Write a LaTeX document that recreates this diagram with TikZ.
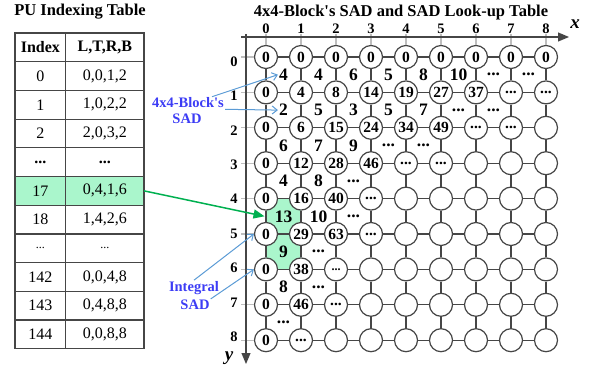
\documentclass[tikz,border=0pt]{standalone}
\usepackage{fontspec}
\setmainfont{Liberation Serif}
\usetikzlibrary{arrows.meta}
\usetikzlibrary{backgrounds}

\definecolor{gridgray}{RGB}{70,70,70}
\definecolor{tickgray}{RGB}{190,190,190}
\definecolor{mint}{RGB}{170,246,204}
\definecolor{arrowgreen}{RGB}{0,176,80}
\definecolor{noteblue}{RGB}{91,155,213}
\definecolor{labelblue}{RGB}{60,60,245}

\newcommand{\boldell}{\textbf{...}}
\newcommand{\thinell}{{\fontsize{12}{12}\selectfont...}}

\tikzset{
  sadnode/.style={circle,draw=gridgray,line width=1.2pt,fill=white,minimum size=23pt,inner sep=0pt,font=\fontsize{15.5}{15.5}\selectfont\bfseries},
  blockval/.style={inner sep=1pt,font=\fontsize{17.5}{17.5}\selectfont\bfseries},
  gridline/.style={draw=gridgray,line width=1.3pt},
  tickline/.style={draw=tickgray,line width=1.2pt},
  axisline/.style={draw=gridgray,line width=1.2pt,-{Triangle[length=11pt,width=9pt]}},
  axislabel/.style={inner sep=1pt,font=\fontsize{14.5}{14.5}\selectfont\bfseries},
  axisvar/.style={inner sep=1pt,font=\fontsize{19}{19}\selectfont\bfseries\itshape},
  tabcell/.style={draw=gridgray,line width=1.2pt,minimum height=28.7pt,inner sep=0pt,outer sep=0pt,font=\fontsize{16}{16}\selectfont},
  note/.style={text=labelblue,font=\fontsize{14.5}{14.5}\selectfont\bfseries,inner sep=1pt},
  notearrow/.style={draw=noteblue,line width=1pt,-{Straight Barb[length=5pt,width=8pt]}},
  greenarrow/.style={draw=arrowgreen,line width=1.5pt,-{Triangle[length=11pt,width=9pt]}},
  title/.style={font=\fontsize{16.5}{16.5}\selectfont\bfseries},
}

\begin{document}
\begin{tikzpicture}[x=1pt,y=-1pt]
  \useasboundingbox (0,0) rectangle (592,369);

  \node[title] (pu-title) at (80,12) {PU Indexing Table};
  \node[title] (sad-title) at (401,13) {4x4-Block\textquotesingle s SAD and SAD Look-up Table};

  % PU table
  \foreach \idx/\ltrb/\cellfill [count=\r from 0] in {
      {\textbf{Index}}/{\textbf{L,T,R,B}}/white,
      0/{0,0,1,2}/white,
      1/{1,0,2,2}/white,
      2/{2,0,3,2}/white,
      \boldell/\boldell/white,
      17/{0,4,1,6}/mint,
      18/{1,4,2,6}/white,
      \thinell/\thinell/white,
      142/{0,0,4,8}/white,
      143/{0,4,8,8}/white,
      144/{0,0,8,8}/white}
  {
    \node[tabcell,fill=\cellfill,minimum width=50.7pt] (idx-\r) at (40.35,47.35+28.7*\r) {\idx};
    \node[tabcell,fill=\cellfill,minimum width=78.3pt] (ltrb-\r) at (104.85,47.35+28.7*\r) {\ltrb};
  }

  % integral SAD nodes
  \foreach \vals [count=\j from 0] in {
      {0,0,0,0,0,0,0,0,0},
      {0,4,8,14,19,27,37,\boldell,\boldell},
      {0,6,15,24,34,49,\boldell,\boldell,{}},
      {0,12,28,46,\boldell,\boldell,{},{},{}},
      {0,16,40,\boldell,{},{},{},{},{}},
      {0,29,63,\boldell,{},{},{},{},{}},
      {0,38,\thinell,{},{},{},{},{},{}},
      {0,46,\boldell,{},{},{},{},{},{}},
      {0,\boldell,{},{},{},{},{},{},{}}}
    \foreach \v [count=\i from 0] in \vals
      \node[sadnode] (c-\i-\j) at (266+35*\i,57+35.4*\j) {\v};

  % 4x4-block SAD values
  \foreach \vals [count=\j from 0] in {
      {4,4,6,5,8,10,\boldell,\boldell},
      {2,5,3,5,7,\boldell,\boldell},
      {6,7,9,\boldell,\boldell},
      {4,8,\boldell},
      {13,10,\boldell},
      {9,\boldell},
      {8,\boldell},
      {\boldell}}
    \foreach \v [count=\i from 0] in \vals
      \node[blockval] (v-\i-\j) at (283.5+35*\i,74.7+35.4*\j) {\v};

  \begin{scope}[on background layer]
    \fill[mint] (c-0-4.center) rectangle (c-1-6.center);
  \end{scope}

  % axes
  \coordinate (xaxis-start) at (241,37);
  \coordinate (xaxis-end) at (569,37);
  \coordinate (yaxis-start) at (246,34);
  \coordinate (yaxis-end) at (246,364);
  \foreach \i in {0,...,8} {
    \draw[tickline] (c-\i-0 |- yaxis-start) -- (c-\i-0);
    \draw[tickline] (c-0-\i -| xaxis-start) -- (c-0-\i);
    \node[axislabel] (xl-\i) at (266+35*\i,29) {\i};
    \node[axislabel] (yl-\i) at (234,61.5+34.4*\i) {\i};
  }
  \draw[axisline] (xaxis-start) -- (xaxis-end);
  \draw[axisline] (yaxis-start) -- (yaxis-end);
  \node[axisvar] (xvar) at (575,24) {x};
  \node[axisvar] (yvar) at (229,358) {y};

  % grid
  \foreach \j in {0,...,8}
    \foreach \i [count=\k from 1] in {0,...,7} {
      \draw[gridline] (c-\i-\j) -- (c-\k-\j);
      \draw[gridline] (c-\j-\i) -- (c-\j-\k);
    }

  % notes
  \node[note] (blk1) at (188,103) {4x4-Block\textquotesingle s};
  \node[note] (blk2) at (187,119) {SAD};
  \draw[notearrow] ([xshift=-13pt]blk1.north east) -- (v-0-0.west);
  \draw[notearrow] (blk1.south east) -- (v-0-1.west);

  \node[note] (int1) at (194,288) {Integral};
  \node[note] (int2) at (195,305) {SAD};
  \draw[notearrow] (int1.north) -- (c-0-5.west);
  \draw[notearrow] (int2.north east) -- (c-0-6.west);

  \coordinate (hl13) at ([xshift=-1.5pt]v-0-4 -| c-0-4);
  \draw[greenarrow] (ltrb-5.east) -- (hl13);
\end{tikzpicture}
\end{document}
